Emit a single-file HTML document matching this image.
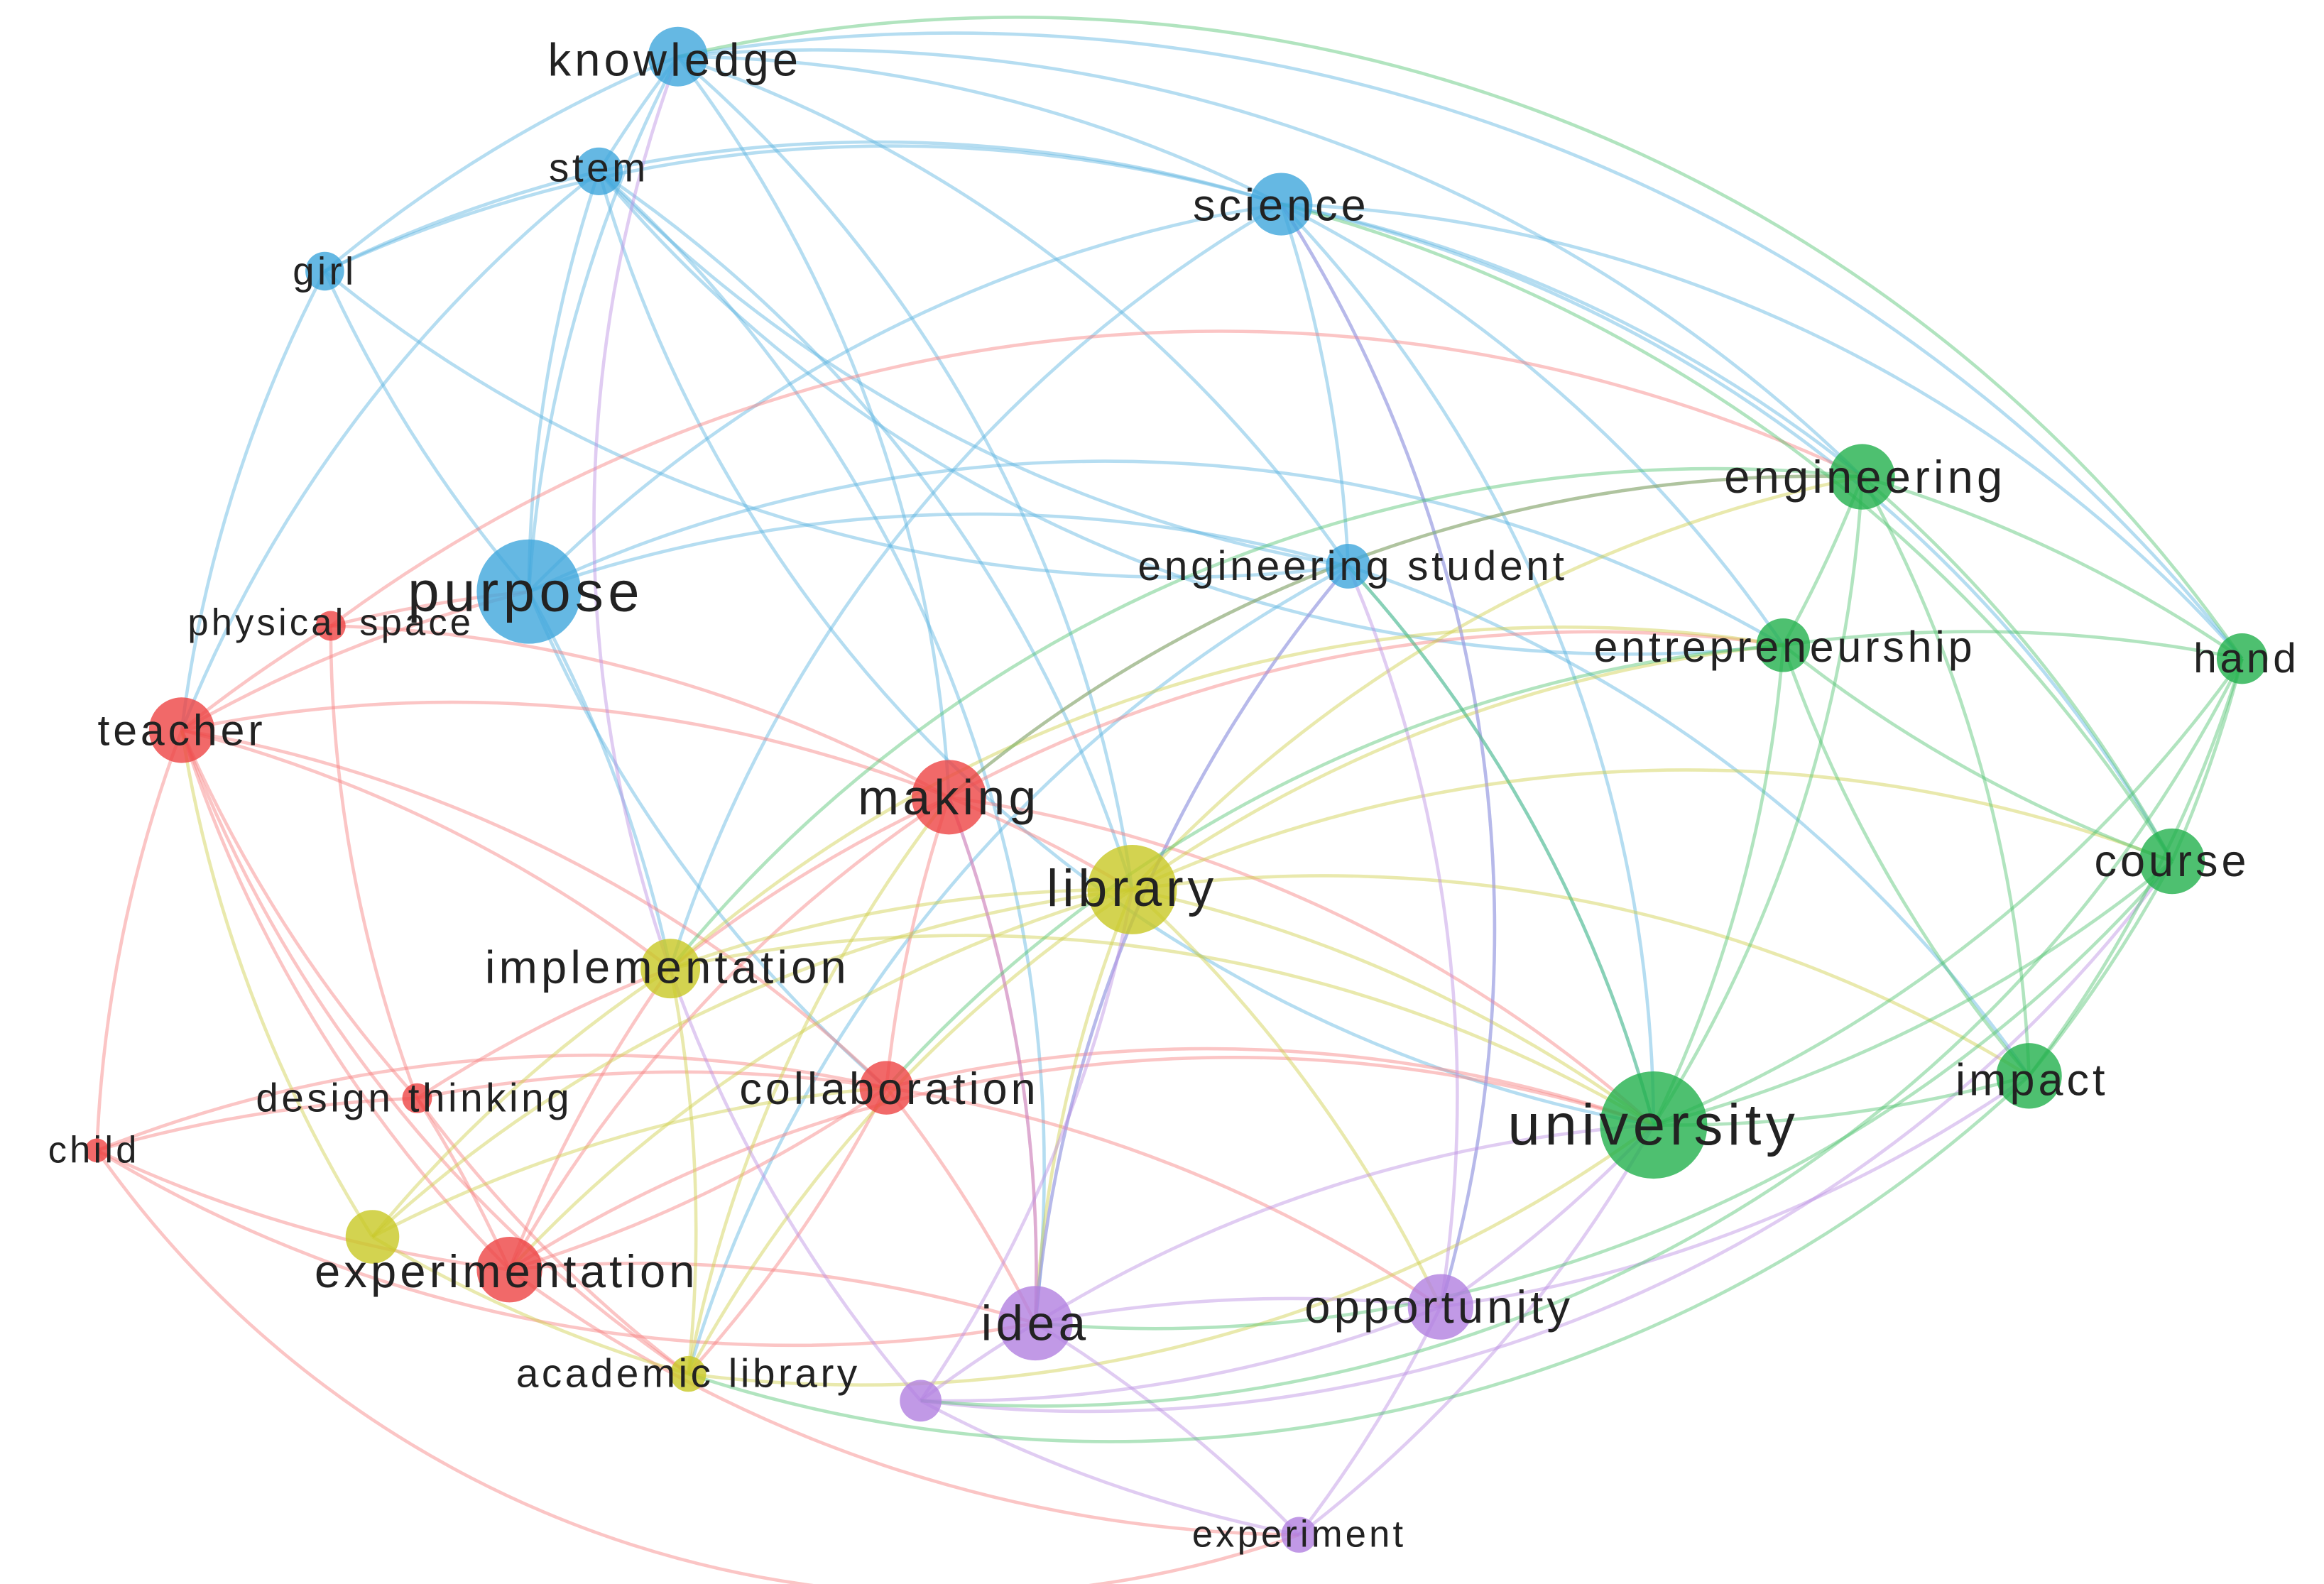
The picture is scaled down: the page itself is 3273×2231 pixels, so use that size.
<!DOCTYPE html>
<html><head><meta charset="utf-8"><style>
html,body{margin:0;padding:0;background:#fff;}
svg{display:block;}
text{font-family:"Liberation Sans",sans-serif;fill:#222;text-anchor:middle;dominant-baseline:central;letter-spacing:0.08em;}
.b{stroke:#5ab4e0}.r{stroke:#f77e7e}.y{stroke:#cfcf4a}.p{stroke:#bb8fe3}.g{stroke:#52c472}
path{fill:none;stroke-width:2.2;stroke-opacity:.45}
</style></head><body>
<svg width="3273" height="2231" viewBox="0 0 1560 1063" preserveAspectRatio="none">
<rect width="1560" height="1063" fill="#fff"/>
<g>
<path class="b" d="M455 38 A900 900 0 0 0 402 115"/>
<path class="b" d="M455 38 A900 900 0 0 0 218 182"/>
<path class="b" d="M455 38 A900 900 0 0 1 860 137"/>
<path class="b" d="M455 38 A900 900 0 0 0 355 397"/>
<path class="b" d="M455 38 A900 900 0 0 1 905 380"/>
<path class="b" d="M455 38 A1100 1100 0 0 1 1505 442"/>
<path class="b" d="M455 38 A900 900 0 0 1 637 535"/>
<path class="b" d="M455 38 A900 900 0 0 1 760 597"/>
<path class="b" d="M455 38 A1000 1000 0 0 1 1250 320"/>
<path class="b" d="M402 115 A900 900 0 0 0 218 182"/>
<path class="b" d="M402 115 A900 900 0 0 1 860 137"/>
<path class="b" d="M402 115 A900 900 0 0 0 355 397"/>
<path class="b" d="M402 115 A900 900 0 0 0 905 380"/>
<path class="b" d="M402 115 A900 900 0 0 0 1197 433"/>
<path class="b" d="M402 115 A900 900 0 0 0 1110 755"/>
<path class="b" d="M402 115 A900 900 0 0 0 122 490"/>
<path class="b" d="M402 115 A900 900 0 0 1 760 597"/>
<path class="b" d="M402 115 A900 900 0 0 1 695 888"/>
<path class="b" d="M218 182 A900 900 0 0 0 355 397"/>
<path class="b" d="M218 182 A900 900 0 0 0 122 490"/>
<path class="b" d="M218 182 A900 900 0 0 0 905 380"/>
<path class="b" d="M218 182 A900 900 0 0 1 860 137"/>
<path class="b" d="M860 137 A900 900 0 0 1 905 380"/>
<path class="b" d="M860 137 A900 900 0 0 1 1110 755"/>
<path class="b" d="M860 137 A900 900 0 0 1 1250 320"/>
<path class="b" d="M860 137 A900 900 0 0 1 1505 442"/>
<path class="b" d="M860 137 A900 900 0 0 1 1458 578"/>
<path class="b" d="M860 137 A900 900 0 0 1 1197 433"/>
<path class="b" d="M860 137 A900 900 0 0 1 967 877"/>
<path class="b" d="M860 137 A900 900 0 0 0 450 650"/>
<path class="b" d="M860 137 A900 900 0 0 0 355 397"/>
<path class="b" d="M355 397 A900 900 0 0 1 905 380"/>
<path class="b" d="M355 397 A900 900 0 0 1 450 650"/>
<path class="b" d="M355 397 A900 900 0 0 0 595 730"/>
<path class="b" d="M355 397 A900 900 0 0 1 1197 433"/>
<path class="b" d="M905 380 A900 900 0 0 1 1110 755"/>
<path class="b" d="M905 380 A900 900 0 0 0 695 888"/>
<path class="b" d="M905 380 A900 900 0 0 1 1362 722"/>
<path class="b" d="M905 380 A900 900 0 0 0 462 922"/>
<path class="r" d="M122 490 A900 900 0 0 1 222 420"/>
<path class="r" d="M122 490 A900 900 0 0 0 65 772"/>
<path class="r" d="M122 490 A900 900 0 0 0 280 737"/>
<path class="r" d="M122 490 A900 900 0 0 0 342 852"/>
<path class="r" d="M122 490 A900 900 0 0 1 637 535"/>
<path class="r" d="M122 490 A900 900 0 0 1 595 730"/>
<path class="r" d="M122 490 A900 900 0 0 1 450 650"/>
<path class="r" d="M122 490 A900 900 0 0 1 355 397"/>
<path class="r" d="M122 490 A900 900 0 0 0 462 922"/>
<path class="r" d="M222 420 A900 900 0 0 1 637 535"/>
<path class="r" d="M222 420 A900 900 0 0 1 355 397"/>
<path class="r" d="M222 420 A900 900 0 0 0 280 737"/>
<path class="r" d="M222 420 A1000 1000 0 0 1 1250 320"/>
<path class="r" d="M637 535 A900 900 0 0 0 595 730"/>
<path class="r" d="M637 535 A900 900 0 0 0 342 852"/>
<path class="r" d="M637 535 A900 900 0 0 0 450 650"/>
<path class="r" d="M637 535 A900 900 0 0 1 1250 320"/>
<path class="r" d="M637 535 A900 900 0 0 1 1197 433"/>
<path class="r" d="M637 535 A900 900 0 0 1 760 597"/>
<path class="r" d="M637 535 A900 900 0 0 1 1110 755"/>
<path class="r" d="M637 535 A900 900 0 0 1 695 888"/>
<path class="r" d="M595 730 A900 900 0 0 1 342 852"/>
<path class="r" d="M595 730 A900 900 0 0 1 1110 755"/>
<path class="r" d="M595 730 A900 900 0 0 0 280 737"/>
<path class="r" d="M595 730 A900 900 0 0 1 695 888"/>
<path class="r" d="M595 730 A900 900 0 0 0 65 772"/>
<path class="r" d="M595 730 A900 900 0 0 1 967 877"/>
<path class="r" d="M595 730 A900 900 0 0 1 462 922"/>
<path class="r" d="M342 852 A900 900 0 0 1 65 772"/>
<path class="r" d="M342 852 A900 900 0 0 0 280 737"/>
<path class="r" d="M342 852 A900 900 0 0 1 450 650"/>
<path class="r" d="M342 852 A900 900 0 0 1 695 888"/>
<path class="r" d="M342 852 A900 900 0 0 0 872 1030"/>
<path class="r" d="M342 852 A900 900 0 0 1 1110 755"/>
<path class="r" d="M280 737 A900 900 0 0 0 65 772"/>
<path class="r" d="M280 737 A900 900 0 0 1 450 650"/>
<path class="r" d="M280 737 A900 900 0 0 0 462 922"/>
<path class="r" d="M65 772 A900 900 0 0 0 695 888"/>
<path class="r" d="M65 772 A700 700 0 0 0 872 1030"/>
<path class="y" d="M760 597 A900 900 0 0 0 450 650"/>
<path class="y" d="M760 597 A900 900 0 0 1 1110 755"/>
<path class="y" d="M760 597 A900 900 0 0 1 1197 433"/>
<path class="y" d="M760 597 A900 900 0 0 1 1250 320"/>
<path class="y" d="M760 597 A900 900 0 0 0 462 922"/>
<path class="y" d="M760 597 A900 900 0 0 0 695 888"/>
<path class="y" d="M760 597 A900 900 0 0 1 967 877"/>
<path class="y" d="M760 597 A900 900 0 0 1 1362 722"/>
<path class="y" d="M760 597 A900 900 0 0 1 1458 578"/>
<path class="y" d="M760 597 A900 900 0 0 0 342 852"/>
<path class="y" d="M760 597 A900 900 0 0 0 250 830"/>
<path class="y" d="M450 650 A900 900 0 0 1 462 922"/>
<path class="y" d="M450 650 A900 900 0 0 1 1110 755"/>
<path class="y" d="M450 650 A900 900 0 0 0 250 830"/>
<path class="y" d="M450 650 A900 900 0 0 1 1197 433"/>
<path class="y" d="M250 830 A900 900 0 0 0 462 922"/>
<path class="y" d="M250 830 A900 900 0 0 1 122 490"/>
<path class="y" d="M250 830 A900 900 0 0 1 595 730"/>
<path class="y" d="M462 922 A900 900 0 0 0 1110 755"/>
<path class="y" d="M462 922 A900 900 0 0 1 637 535"/>
<path class="p" d="M695 888 A900 900 0 0 1 967 877"/>
<path class="p" d="M695 888 A900 900 0 0 1 872 1030"/>
<path class="p" d="M695 888 A900 900 0 0 1 1110 755"/>
<path class="p" d="M695 888 A900 900 0 0 0 618 940"/>
<path class="p" d="M695 888 A900 900 0 0 1 905 380"/>
<path class="p" d="M967 877 A900 900 0 0 1 872 1030"/>
<path class="p" d="M967 877 A900 900 0 0 0 1110 755"/>
<path class="p" d="M967 877 A900 900 0 0 1 618 940"/>
<path class="p" d="M967 877 A900 900 0 0 0 905 380"/>
<path class="p" d="M967 877 A900 900 0 0 0 1362 722"/>
<path class="p" d="M618 940 A900 900 0 0 0 872 1030"/>
<path class="p" d="M618 940 A900 900 0 0 0 1458 578"/>
<path class="p" d="M872 1030 A900 900 0 0 0 1110 755"/>
<path class="p" d="M967 877 A900 900 0 0 0 860 137"/>
<path class="p" d="M618 940 A900 900 0 0 0 760 597"/>
<path class="p" d="M695 888 A900 900 0 0 0 637 535"/>
<path class="p" d="M455 38 A900 900 0 0 0 618 940"/>
<path class="g" d="M1110 755 A900 900 0 0 0 1362 722"/>
<path class="g" d="M1110 755 A900 900 0 0 0 1458 578"/>
<path class="g" d="M1110 755 A900 900 0 0 0 1505 442"/>
<path class="g" d="M1110 755 A900 900 0 0 0 1197 433"/>
<path class="g" d="M1110 755 A900 900 0 0 0 1250 320"/>
<path class="g" d="M1362 722 A900 900 0 0 0 1458 578"/>
<path class="g" d="M1362 722 A900 900 0 0 0 1505 442"/>
<path class="g" d="M1362 722 A900 900 0 0 0 1250 320"/>
<path class="g" d="M1362 722 A900 900 0 0 1 1197 433"/>
<path class="g" d="M1458 578 A900 900 0 0 0 1505 442"/>
<path class="g" d="M1458 578 A900 900 0 0 0 1250 320"/>
<path class="g" d="M1458 578 A900 900 0 0 1 1197 433"/>
<path class="g" d="M1505 442 A900 900 0 0 0 1250 320"/>
<path class="g" d="M1505 442 A900 900 0 0 0 1197 433"/>
<path class="g" d="M1250 320 A900 900 0 0 1 1197 433"/>
<path class="g" d="M1110 755 A900 900 0 0 0 905 380"/>
<path class="g" d="M1250 320 A900 900 0 0 0 637 535"/>
<path class="g" d="M1197 433 A900 900 0 0 0 595 730"/>
<path class="g" d="M1250 320 A900 900 0 0 0 450 650"/>
<path class="g" d="M1505 442 A1000 1000 0 0 0 455 38"/>
<path class="g" d="M1362 722 A900 900 0 0 1 462 922"/>
<path class="g" d="M1458 578 A900 900 0 0 1 695 888"/>
<path class="g" d="M1505 442 A900 900 0 0 1 618 940"/>
<path class="g" d="M1458 578 A1000 1000 0 0 0 860 137"/>
</g>
<g fill-opacity=".8">
<circle cx="455" cy="38" r="20" fill="#3fa6dc"/>
<circle cx="402" cy="115" r="16" fill="#3fa6dc"/>
<circle cx="218" cy="182" r="13" fill="#3fa6dc"/>
<circle cx="860" cy="137" r="21" fill="#3fa6dc"/>
<circle cx="355" cy="397" r="35" fill="#3fa6dc"/>
<circle cx="905" cy="380" r="15" fill="#3fa6dc"/>
<circle cx="222" cy="420" r="10" fill="#ee4444"/>
<circle cx="122" cy="490" r="22" fill="#ee4444"/>
<circle cx="637" cy="535" r="25" fill="#ee4444"/>
<circle cx="760" cy="597" r="30" fill="#c8c824"/>
<circle cx="450" cy="650" r="20" fill="#c8c824"/>
<circle cx="280" cy="737" r="10" fill="#ee4444"/>
<circle cx="595" cy="730" r="18" fill="#ee4444"/>
<circle cx="65" cy="772" r="8" fill="#ee4444"/>
<circle cx="342" cy="852" r="22" fill="#ee4444"/>
<circle cx="250" cy="830" r="18" fill="#c8c824"/>
<circle cx="462" cy="922" r="12" fill="#c8c824"/>
<circle cx="695" cy="888" r="25" fill="#b27fe0"/>
<circle cx="618" cy="940" r="14" fill="#b27fe0"/>
<circle cx="967" cy="877" r="22" fill="#b27fe0"/>
<circle cx="872" cy="1030" r="12" fill="#b27fe0"/>
<circle cx="1110" cy="755" r="36" fill="#22b04c"/>
<circle cx="1362" cy="722" r="22" fill="#22b04c"/>
<circle cx="1458" cy="578" r="22" fill="#22b04c"/>
<circle cx="1505" cy="442" r="17" fill="#22b04c"/>
<circle cx="1197" cy="433" r="18" fill="#22b04c"/>
<circle cx="1250" cy="320" r="22" fill="#22b04c"/>
</g>
<g>
<text x="453" y="40" font-size="31">knowledge</text>
<text x="402" y="113" font-size="27">stem</text>
<text x="218" y="182" font-size="26">girl</text>
<text x="860" y="138" font-size="30">science</text>
<text x="353" y="397" font-size="38">purpose</text>
<text x="908" y="380" font-size="28">engineering student</text>
<text x="222" y="418" font-size="25">physical space</text>
<text x="122" y="490" font-size="29">teacher</text>
<text x="637" y="535" font-size="33">making</text>
<text x="760" y="596" font-size="35">library</text>
<text x="448" y="649" font-size="31">implementation</text>
<text x="278" y="737" font-size="27">design thinking</text>
<text x="597" y="731" font-size="30">collaboration</text>
<text x="63" y="772" font-size="25">child</text>
<text x="340" y="853" font-size="31">experimentation</text>
<text x="462" y="922" font-size="27">academic library</text>
<text x="695" y="888" font-size="33">idea</text>
<text x="966" y="877" font-size="31">opportunity</text>
<text x="872" y="1030" font-size="25">experiment</text>
<text x="1110" y="755" font-size="39">university</text>
<text x="1364" y="725" font-size="30">impact</text>
<text x="1458" y="578" font-size="30">course</text>
<text x="1508" y="442" font-size="28">hand</text>
<text x="1198" y="434" font-size="29">entrepreneurship</text>
<text x="1252" y="320" font-size="31">engineering</text>
</g>
</svg>
</body></html>
